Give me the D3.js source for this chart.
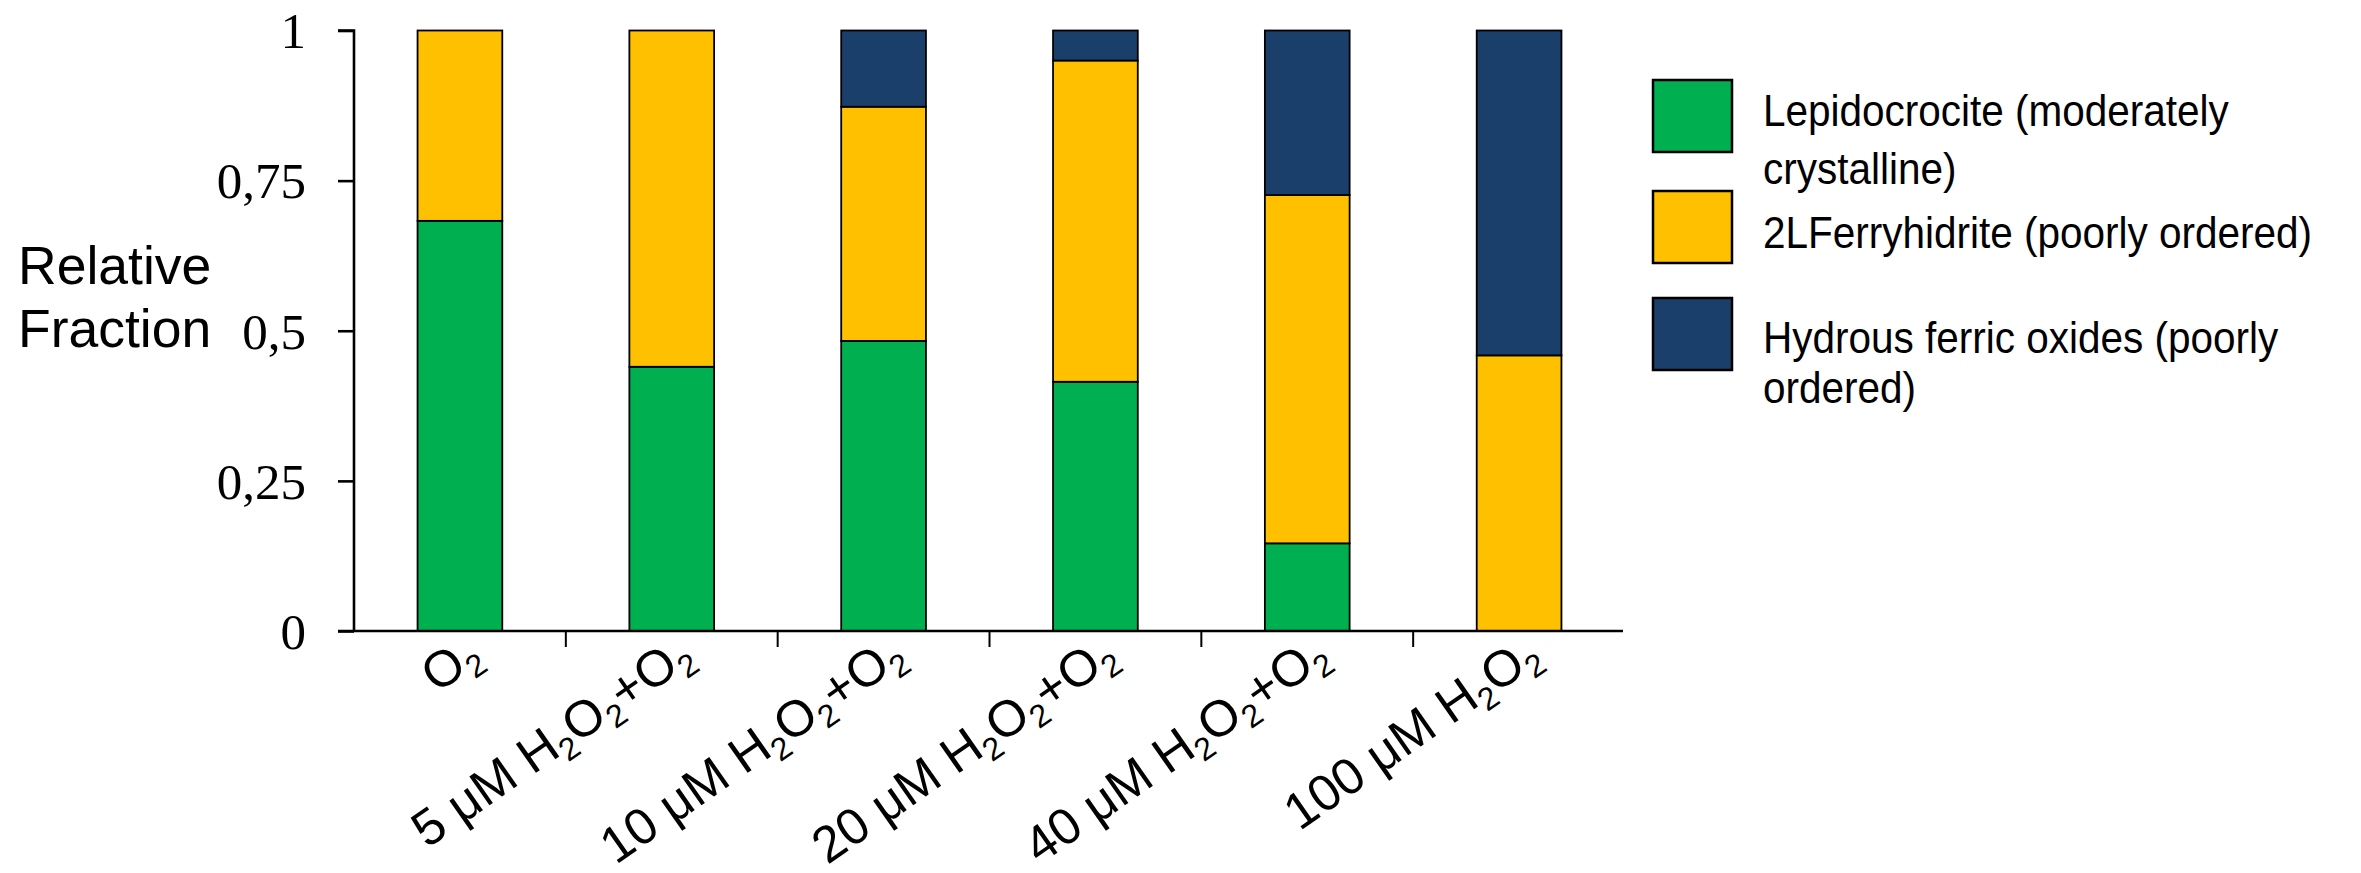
<!DOCTYPE html>
<html><head><meta charset="utf-8">
<script src="https://cdn.jsdelivr.net/npm/d3@7"></script>
<style>
html,body{margin:0;padding:0;background:#fff;}
svg{display:block;}
</style></head>
<body>
<svg id="chart" width="2361" height="873"></svg>
<script>
const categories = ["O₂", "5 μM H₂O₂+O₂", "10 μM H₂O₂+O₂", "20 μM H₂O₂+O₂", "40 μM H₂O₂+O₂", "100 μM H₂O₂"];
const lepidocrocite = [0.683, 0.44, 0.483, 0.415, 0.146, 0];
const ferrihydrite = [0.317, 0.56, 0.39, 0.535, 0.58, 0.459];
const hydrousFerricOxides = [0, 0, 0.127, 0.05, 0.274, 0.541];
const seriesNames = ["Lepidocrocite (moderately crystalline)", "2LFerryhidrite (poorly ordered)", "Hydrous ferric oxides (poorly ordered)"];
const legendLines = [["Lepidocrocite (moderately", "crystalline)"], ["2LFerryhidrite (poorly ordered)"], ["Hydrous ferric oxides (poorly", "ordered)"]];
const seriesColors = ["#00B050", "#FFC000", "#1B3F6B"];
const yTicks = [0, 0.25, 0.5, 0.75, 1];
const yTickLabels = ["0", "0,25", "0,5", "0,75", "1"];
const yTitle = ["Relative", "Fraction"];

const svg = d3.select("#chart");
const axisY = 631, topY = 30.5, leftX = 354, rightX = 1625;

const keys = ["lep", "fer", "hfo"];
const rows = categories.map((c, i) => ({cat: c, lep: lepidocrocite[i], fer: ferrihydrite[i], hfo: hydrousFerricOxides[i]}));
const stacked = d3.stack().keys(keys)(rows);

const x = d3.scaleBand().domain(categories).range([leftX, rightX]).paddingInner(0.6).paddingOuter(0.3);
const y = d3.scaleLinear().domain([0, 1]).range([axisY, topY]);
const color = d3.scaleOrdinal().domain(keys).range(seriesColors);

// bars
svg.append("g").selectAll("g").data(stacked).join("g")
  .attr("fill", d => color(d.key))
  .selectAll("rect").data(d => d.filter(s => s[1] - s[0] > 0)).join("rect")
  .attr("x", d => x(d.data.cat))
  .attr("width", x.bandwidth())
  .attr("y", d => y(d[1]))
  .attr("height", d => y(d[0]) - y(d[1]))
  .attr("stroke", "#000").attr("stroke-width", 1.8);

// y axis
const yAxis = d3.axisLeft(y).tickValues(yTicks).tickFormat((d, i) => yTickLabels[i]).tickSize(16).tickPadding(32);
const yg = svg.append("g").attr("transform", `translate(${leftX},0)`).call(yAxis);
yg.select(".domain").attr("stroke", "#000").attr("stroke-width", 2.6).attr("d", `M-16,${topY}H0V${axisY}`);
yg.selectAll(".tick line").attr("stroke", "#000").attr("stroke-width", 2.6);
yg.selectAll(".tick text").attr("font-family", "'Liberation Serif','Times New Roman',serif").attr("font-size", 51).attr("fill", "#000").attr("dy", "0.34em");

// x axis
const xg = svg.append("g").attr("transform", `translate(0,${axisY})`);
xg.append("path").attr("d", `M${leftX - 16},0H${rightX - 2}`).attr("stroke", "#000").attr("stroke-width", 2.4).attr("fill", "none");
const bounds = categories.slice(1).map(c => x(c) - x.step() * x.paddingInner() / 2);
xg.selectAll("line.sep").data(bounds).join("line").attr("class", "sep")
  .attr("x1", d => d).attr("x2", d => d).attr("y1", 0).attr("y2", 16)
  .attr("stroke", "#000").attr("stroke-width", 2);

// x labels with subscripts
const subShift = 10;
const labels = xg.selectAll("text.xl").data(categories).join("text").attr("class", "xl")
  .attr("transform", d => `translate(${x(d) + x.bandwidth() / 2 + 24},30) rotate(-35)`)
  .attr("text-anchor", "end")
  .attr("font-family", "'Liberation Sans',Arial,sans-serif")
  .attr("font-size", 51).attr("fill", "#000");
labels.each(function(d) {
  const t = d3.select(this);
  let shifted = false;
  const parts = d.split("₂");
  parts.forEach((p, i) => {
    if (p.length) {
      const ts = t.append("tspan").text(p);
      if (shifted) { ts.attr("dy", -subShift); shifted = false; }
    }
    if (i < parts.length - 1) {
      const ts = t.append("tspan").text("2").attr("font-size", 32);
      if (!shifted) { ts.attr("dy", subShift); shifted = true; }
    }
  });
});

// y title
svg.append("text").attr("font-family", "'Liberation Sans',Arial,sans-serif").attr("font-size", 53.5).attr("fill", "#000")
  .selectAll("tspan").data(yTitle).join("tspan")
  .attr("x", 18).attr("y", (d, i) => 283.5 + i * 63.3).text(d => d);

// legend
const legend = svg.append("g");
const swY = [80, 191, 298];
const textY = [[126.5, 184], [248], [353.5, 403.5]];
legend.selectAll("rect").data(keys).join("rect")
  .attr("x", 1653).attr("y", (d, i) => swY[i]).attr("width", 79).attr("height", 72)
  .attr("fill", d => color(d)).attr("stroke", "#000").attr("stroke-width", 2.5);
legend.selectAll("text").data(legendLines).join("text")
  .attr("transform", "translate(1763,0) scale(0.9,1)")
  .attr("font-family", "'Liberation Sans',Arial,sans-serif").attr("font-size", 45).attr("fill", "#000")
  .each(function(lines, i) {
    d3.select(this).selectAll("tspan").data(lines).join("tspan")
      .attr("x", 0).attr("y", (l, j) => textY[i][j]).text(l => l);
  });
</script>
</body></html>
